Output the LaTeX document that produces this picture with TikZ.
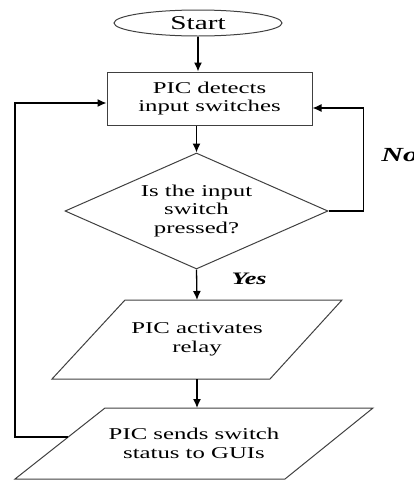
\documentclass[tikz,border=0pt]{standalone}
\usepackage{fontspec}
\newfontfamily\chartfont{Liberation Serif}[FakeStretch=1.5]
\usetikzlibrary{shapes.geometric,arrows.meta}

\tikzset{
  box/.style={draw=black!75, line width=1pt, align=center, inner sep=0pt,
    font=\chartfont\fontsize{16.5}{18.5}\selectfont},
  startstop/.style={box, ellipse, minimum width=168pt, minimum height=26pt,
    font=\chartfont\fontsize{19.5}{22}\selectfont},
  process/.style={box, rectangle, minimum width=205pt, minimum height=53pt},
  decision/.style={box, diamond, aspect=2.27, minimum width=263pt, minimum height=116pt},
  iotext/.style={box, draw=none},
  ioline/.style={draw=black!75, line width=1pt},
  flow/.style={line width=1.3pt, -{Latex[length=9pt,width=8pt]}},
  answer/.style={font=\chartfont\bfseries\itshape\fontsize{17.5}{20}\selectfont}
}

\begin{document}
\begin{tikzpicture}[x=1pt,y=-1pt]
    \useasboundingbox (0,0) rectangle (414,480);
    \node [startstop] (Start)  at (198,23)    {Start};
    \node [process]   (Detect) at (209.5,98.5) {PIC detects\\input switches};
    \node [decision]  (Check)  at (196.5,211) {Is the input\\switch\\pressed?};
    % input/output boxes
    \draw [ioline] (125,300) -- (342,300) -- (270,379) -- (52,379) -- cycle;
    \node [iotext] (Relay) at (197,339.5) {PIC activates\\relay};
    \draw [ioline] (105,408) -- (373,408) -- (285,479) -- (15,479) -- cycle;
    \node [iotext] (Send)  at (194,443.5) {PIC sends switch\\status to GUIs};
    \coordinate (RelayTop)    at (197,300);
    \coordinate (RelayBottom) at (197,379);
    \coordinate (SendTop)     at (197,408);
    \coordinate (LoopOut)     at (68.2,437);
    \draw [flow] (Start) -- (Start |- Detect.north);
    \draw [flow] (Detect.south -| Check.north) -- (Check.north);
    \draw [flow] (Check.south) -- node [answer, right, pos=0.3, xshift=31pt] {Yes} (RelayTop);
    \draw [flow] (Check.east) -- ++(35,0) |- node [answer, right, pos=0.27, xshift=14pt, font=\chartfont\bfseries\itshape\fontsize{20}{22}\selectfont] {No} ([yshift=-9.5pt]Detect.east);% No loop
    \draw [flow] (RelayBottom) -- (SendTop);
    \draw [flow] (LoopOut) -- (15,0 |- LoopOut) |- ([yshift=-4.5pt]Detect.west);% back to detection
  \end{tikzpicture}
\end{document}
